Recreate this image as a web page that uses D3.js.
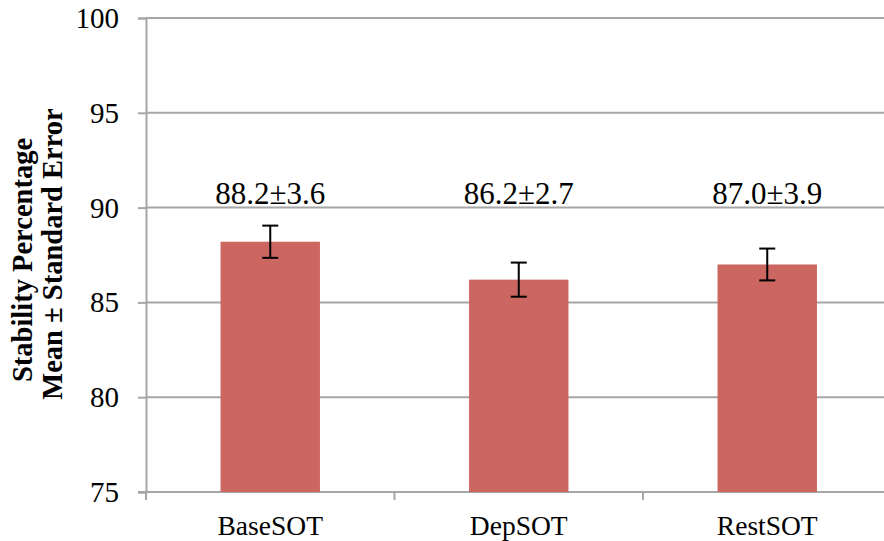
<!DOCTYPE html>
<html>
<head>
<meta charset="utf-8">
<script src="https://cdn.jsdelivr.net/npm/d3@7"></script>
<style>
  html, body { margin: 0; padding: 0; background: #fff; }
  svg { display: block; }
</style>
</head>
<body>
<svg id="chart" width="884" height="541"></svg>
<script>
const categories = ["BaseSOT", "DepSOT", "RestSOT"];
const means = [88.2, 86.2, 87.0];
const errors = [0.85, 0.9, 0.84];
const labels = ["88.2±3.6", "86.2±2.7", "87.0±3.9"];
const yTicks = [75, 80, 85, 90, 95, 100];
const yTitle = ["Stability Percentage", "Mean ± Standard Error"];

const svg = d3.select("#chart");
const mLeft = 146, mTop = 18, mBottom = 492, bandW = 248.5;
const x = d3.scaleBand().domain(categories).range([mLeft, mLeft + bandW * categories.length]).paddingInner(0.6).paddingOuter(0.3);
const y = d3.scaleLinear().domain([75, 100]).range([mBottom, mTop]);
const gridColor = "#a6a6a6";
const serif = "'Liberation Serif', 'Times New Roman', serif";

// gridlines
svg.append("g").selectAll("line").data(yTicks.filter(d => d > 75)).join("line")
  .attr("x1", mLeft).attr("x2", 884)
  .attr("y1", d => y(d)).attr("y2", d => y(d))
  .attr("stroke", gridColor).attr("stroke-width", 2);

// y axis
const yAxis = svg.append("g").attr("transform", `translate(${mLeft},0)`)
  .call(d3.axisLeft(y).tickValues(yTicks).tickSize(8).tickPadding(19));
yAxis.select(".domain").attr("stroke", gridColor).attr("stroke-width", 2);
yAxis.selectAll(".tick line").attr("stroke", gridColor).attr("stroke-width", 2);
yAxis.selectAll(".tick text").attr("font-family", serif).attr("font-size", 29).attr("fill", "#000").attr("dy", "0.33em");

// x axis
const xLin = d3.scaleLinear().domain([0, categories.length]).range([mLeft, mLeft + bandW * categories.length]);
const xAxis = svg.append("g").attr("transform", `translate(0,${mBottom})`);
xAxis.append("line").attr("x1", mLeft - 8).attr("x2", 884).attr("y1", 0).attr("y2", 0)
  .attr("stroke", gridColor).attr("stroke-width", 2);
xAxis.selectAll("line.tk").data(d3.range(categories.length + 1)).join("line").attr("class", "tk")
  .attr("x1", d => xLin(d)).attr("x2", d => xLin(d)).attr("y1", 0).attr("y2", 8)
  .attr("stroke", gridColor).attr("stroke-width", 2);
xAxis.selectAll("text").data(categories).join("text")
  .attr("x", d => x(d) + x.bandwidth() / 2).attr("y", 43)
  .attr("text-anchor", "middle").attr("font-family", serif).attr("font-size", 27.5).attr("fill", "#000")
  .text(d => d);

// bars
svg.append("g").selectAll("rect").data(categories).join("rect")
  .attr("x", d => x(d)).attr("width", x.bandwidth())
  .attr("y", (d, i) => y(means[i])).attr("height", (d, i) => mBottom - y(means[i]))
  .attr("fill", "#cc6660");

// error bars
const eb = svg.append("g").attr("stroke", "#000").attr("stroke-width", 2);
categories.forEach((c, i) => {
  const cx = x(c) + x.bandwidth() / 2;
  const y1 = y(means[i] + errors[i]), y2 = y(means[i] - errors[i]);
  eb.append("line").attr("x1", cx).attr("x2", cx).attr("y1", y1).attr("y2", y2);
  eb.append("line").attr("x1", cx - 8).attr("x2", cx + 8).attr("y1", y1).attr("y2", y1);
  eb.append("line").attr("x1", cx - 8).attr("x2", cx + 8).attr("y1", y2).attr("y2", y2);
});

// value labels
svg.append("g").selectAll("text").data(categories).join("text")
  .attr("x", d => x(d) + x.bandwidth() / 2).attr("y", 203.5)
  .attr("text-anchor", "middle").attr("font-family", serif).attr("font-size", 31).attr("fill", "#000")
  .text((d, i) => labels[i]);

// y title
const yt = svg.append("text")
  .attr("transform", `translate(0,257) rotate(-90)`)
  .attr("text-anchor", "middle").attr("font-family", serif).attr("font-weight", "bold")
  .attr("font-size", 28.5).attr("fill", "#000");
yTitle.forEach((t, i) => {
  yt.append("tspan").attr("x", i === 0 ? -3 : 3).attr("y", 32 + i * 30).text(t);
});
</script>
</body>
</html>
